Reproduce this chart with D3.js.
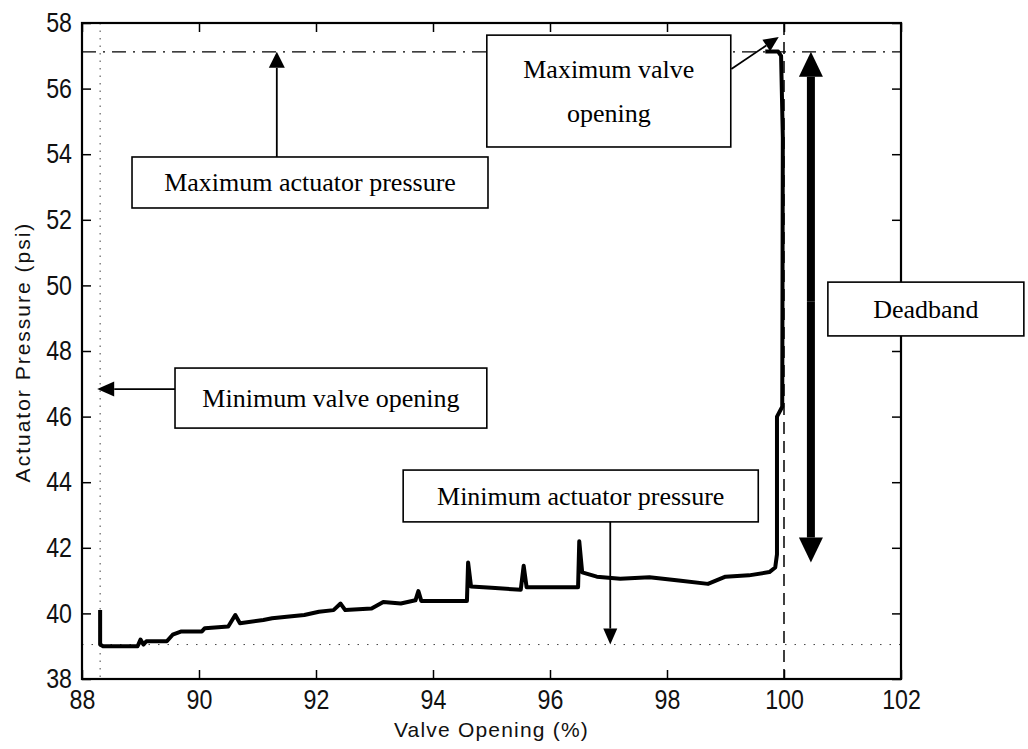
<!DOCTYPE html>
<html>
<head>
<meta charset="utf-8">
<script src="https://cdn.jsdelivr.net/npm/d3@7"></script>
<style>
  body { margin: 0; background: #fff; }
  .tickText text { font-family: "Liberation Sans", Arial, sans-serif; font-size: 27px; fill: #111; }
  .axisLabel { font-family: "Liberation Sans", Arial, sans-serif; font-size: 21px; fill: #111; }
  .note { font-family: "Liberation Serif", "Times New Roman", serif; font-size: 26px; fill: #000; }
  .box { fill: #fff; stroke: #000; stroke-width: 1.6; }
  .curve { fill: none; stroke: #000; stroke-width: 4; stroke-linejoin: round; }
</style>
</head>
<body>
<svg></svg>
<script>
// valve signature test
var valveOpening = [88.31, 88.31, 88.36, 88.95, 89.0, 89.05, 89.1, 89.45, 89.55, 89.7, 90.05, 90.1, 90.5, 90.62, 90.7,
  91.1, 91.25, 91.5, 91.8, 92.05, 92.3, 92.42, 92.5, 92.95, 93.15, 93.45, 93.7, 93.75, 93.8, 94.58,
  94.6, 94.65, 95.0, 95.5, 95.55, 95.6, 96.48, 96.5, 96.55, 96.8, 97.2, 97.7, 98.2, 98.7, 99.0,
  99.4, 99.75, 99.85, 99.88, 99.88, 99.97, 99.98, 99.95, 99.9, 99.68];
var actuatorPressure = [40.1, 39.05, 39.0, 39.0, 39.2, 39.05, 39.15, 39.15, 39.35, 39.45, 39.45, 39.55, 39.6, 39.95, 39.7,
  39.8, 39.85, 39.9, 39.95, 40.05, 40.1, 40.3, 40.1, 40.15, 40.35, 40.3, 40.4, 40.68, 40.38, 40.38,
  41.55, 40.82, 40.78, 40.72, 41.45, 40.8, 40.8, 42.2, 41.25, 41.12, 41.06, 41.1, 41.0, 40.9, 41.12,
  41.16, 41.26, 41.4, 41.8, 46.0, 46.3, 54.5, 57.0, 57.13, 57.13];

var xTicks = [88, 90, 92, 94, 96, 98, 100, 102];
var yTicks = [38, 40, 42, 44, 46, 48, 50, 52, 54, 56, 58];

var minOpening = 88.31, maxOpening = 100;
var minPressure = 39.05, maxPressure = 57.12;

var width = 1028, height = 749;
var margin = {top: 23, right: 127, bottom: 70, left: 82};

var svg = d3.select("svg").attr("width", width).attr("height", height);

var x = d3.scaleLinear().domain([88, 102]).range([margin.left, width - margin.right]);
var y = d3.scaleLinear().domain([38, 58]).range([height - margin.bottom, margin.top]);

// reference lines
svg.append("line")
  .attr("x1", x(minOpening)).attr("x2", x(minOpening))
  .attr("y1", y(58)).attr("y2", y(38))
  .attr("stroke", "#444").attr("stroke-width", 1).attr("stroke-dasharray", "1.5,6");
svg.append("line")
  .attr("x1", x(88)).attr("x2", x(102))
  .attr("y1", y(minPressure)).attr("y2", y(minPressure))
  .attr("stroke", "#444").attr("stroke-width", 1).attr("stroke-dasharray", "1.5,8");
svg.append("line")
  .attr("x1", x(88)).attr("x2", x(102))
  .attr("y1", y(maxPressure)).attr("y2", y(maxPressure))
  .attr("stroke", "#000").attr("stroke-width", 1.3).attr("stroke-dasharray", "14,7,2,7");
svg.append("line")
  .attr("x1", x(maxOpening)).attr("x2", x(maxOpening))
  .attr("y1", y(58)).attr("y2", y(38))
  .attr("stroke", "#000").attr("stroke-width", 1.5).attr("stroke-dasharray", "12,7");

// the measured curve
var line = d3.line()
  .x(function(d, i) { return x(valveOpening[i]); })
  .y(function(d, i) { return y(actuatorPressure[i]); });

svg.append("path").datum(valveOpening)
  .attr("class", "curve")
  .attr("d", line);

// axes, MATLAB style box with inward ticks
var xAxisG = svg.append("g")
  .attr("class", "tickText")
  .attr("transform", "translate(0," + y(38) + ")")
  .call(d3.axisBottom(x).tickValues(xTicks).tickSizeInner(-9).tickSizeOuter(0).tickPadding(11));
svg.append("g")
  .attr("transform", "translate(0," + y(58) + ")")
  .call(d3.axisTop(x).tickValues(xTicks).tickSizeInner(-9).tickSizeOuter(0).tickFormat(""));
var yAxisG = svg.append("g")
  .attr("class", "tickText")
  .attr("transform", "translate(" + x(88) + ",0)")
  .call(d3.axisLeft(y).tickValues(yTicks).tickSizeInner(-9).tickSizeOuter(0).tickPadding(10));
svg.append("g")
  .attr("transform", "translate(" + x(102) + ",0)")
  .call(d3.axisRight(y).tickValues(yTicks).tickSizeInner(-9).tickSizeOuter(0).tickFormat(""));

// condensed look of the old matlab font
xAxisG.selectAll(".tick text").attr("transform", "scale(0.86,1)");
yAxisG.selectAll(".tick text").attr("x", -10 / 0.86).attr("transform", "scale(0.86,1)");

svg.selectAll(".domain").remove();
svg.selectAll(".tick line").attr("stroke", "#000").attr("stroke-width", 1.5);

svg.append("rect")
  .attr("x", x(88)).attr("y", y(58))
  .attr("width", x(102) - x(88)).attr("height", y(38) - y(58))
  .attr("fill", "none").attr("stroke", "#000").attr("stroke-width", 2.2);

svg.append("text")
  .attr("class", "axisLabel")
  .attr("x", (x(88) + x(102)) / 2)
  .attr("y", height - 12)
  .attr("text-anchor", "middle")
  .style("letter-spacing", "1.2px")
  .text("Valve Opening (%)");

svg.append("text")
  .attr("class", "axisLabel")
  .attr("transform", "translate(30," + 352 + ") rotate(-90)")
  .attr("text-anchor", "middle")
  .style("letter-spacing", "2px")
  .text("Actuator Pressure (psi)");

// annotations
function arrow(x1, y1, x2, y2, w, headLen, headW) {
  var ang = Math.atan2(y2 - y1, x2 - x1);
  var bx = x2 - headLen * Math.cos(ang), by = y2 - headLen * Math.sin(ang);
  svg.append("line")
    .attr("x1", x1).attr("y1", y1).attr("x2", bx).attr("y2", by)
    .attr("stroke", "#000").attr("stroke-width", w);
  var px = -Math.sin(ang) * headW / 2, py = Math.cos(ang) * headW / 2;
  svg.append("path")
    .attr("d", "M" + x2 + "," + y2 + "L" + (bx + px) + "," + (by + py) + "L" + (bx - px) + "," + (by - py) + "Z")
    .attr("fill", "#000");
}

function box(x0, x1, y0, y1, lines) {
  var bx = x(x0), by = y(y0), bw = x(x1) - x(x0), bh = y(y1) - y(y0);
  svg.append("rect").attr("class", "box")
    .attr("x", bx).attr("y", by).attr("width", bw).attr("height", bh);
  var step = 44;
  var first = by + bh / 2 + 9 - (lines.length - 1) * step / 2;
  lines.forEach(function(t, i) {
    svg.append("text").attr("class", "note")
      .attr("x", bx + bw / 2).attr("y", first + i * step)
      .attr("text-anchor", "middle")
      .text(t);
  });
}

box(88.855, 94.94, 53.915, 52.36, ["Maximum actuator pressure"]);
arrow(x(91.33), y(53.915), x(91.33), y(maxPressure), 1.8, 16, 16);

box(94.92, 99.09, 57.63, 54.22, ["Maximum valve", "opening"]);
arrow(x(99.1), y(56.6), x(99.91), y(57.57), 1.8, 15, 14);

box(89.59, 94.92, 47.48, 45.65, ["Minimum valve opening"]);
arrow(x(89.59), y(46.84), x(88.26), y(46.84), 1.8, 17, 15);

box(93.49, 99.56, 44.37, 42.79, ["Minimum actuator pressure"]);
arrow(x(97.03), y(42.79), x(97.03), y(minPressure), 1.8, 16, 14);

// deadband double arrow
arrow(x(100.46), y(49.5), x(100.46), y(maxPressure), 8, 25, 24);
arrow(x(100.46), y(49.5), x(100.46), y(41.55), 8, 25, 24);

box(100.75, 104.1, 50.1, 48.46, ["Deadband"]);
</script>
</body>
</html>
